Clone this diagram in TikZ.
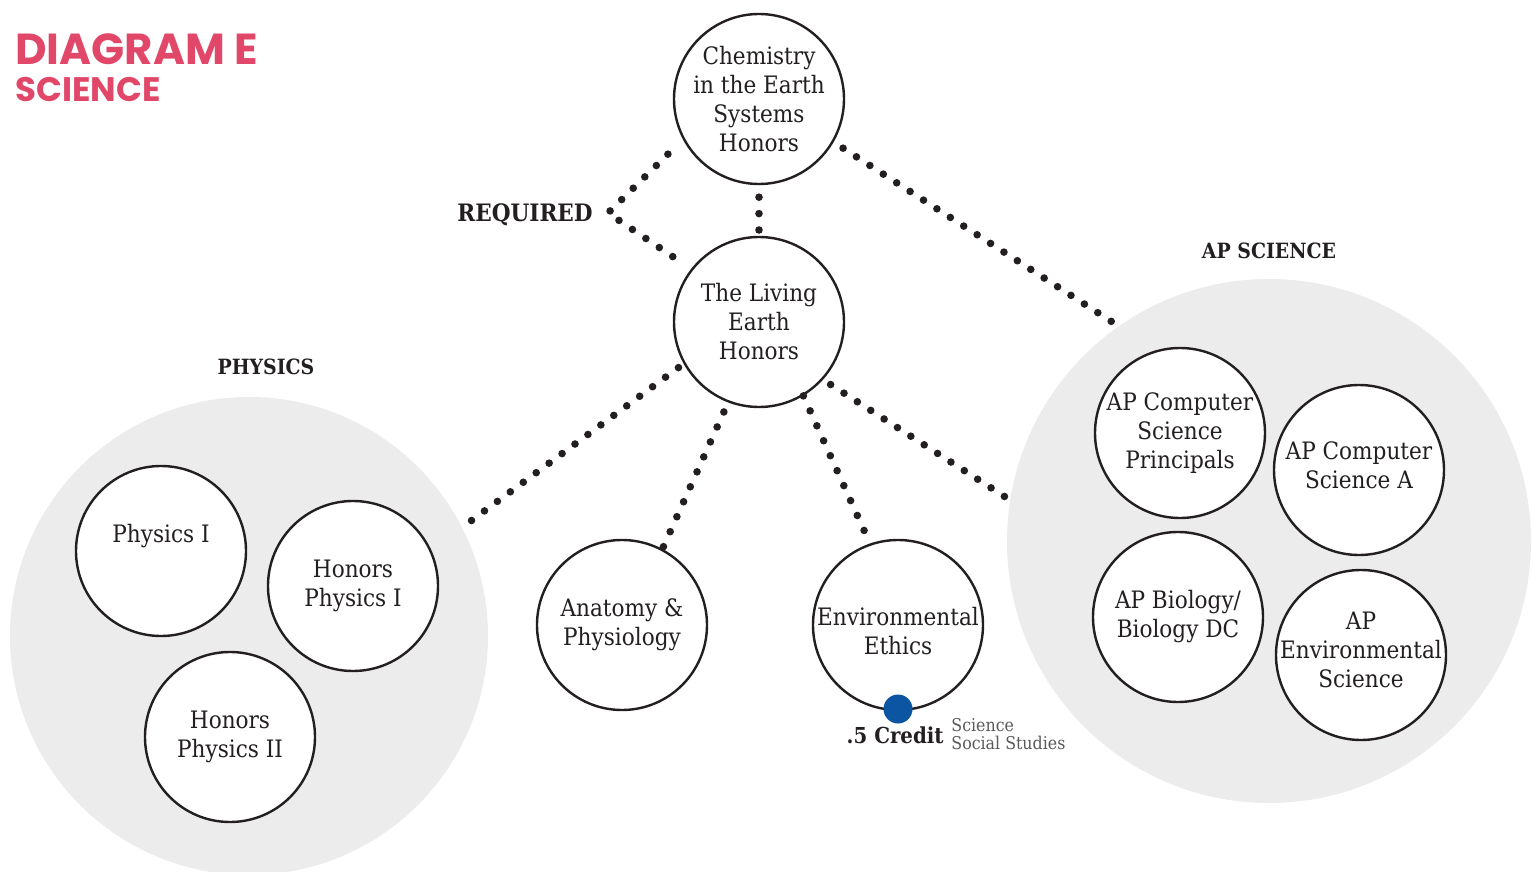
\documentclass[tikz,border=0pt]{standalone}
\usepackage{fontspec}
\setmainfont{DejaVu Serif}[FakeStretch=0.9]
\newfontfamily\titlefont{Poppins}
\usepackage{tikz}
\usetikzlibrary{shapes}

\begin{document}
\begin{tikzpicture}[x=0.5pt,y=-0.5pt,
  course/.style={draw=ink,circle,line width=1.2pt,fill=white,text=ink,minimum size=85pt,inner sep=-8pt,align=center,font=\fontsize{12}{14.5}\selectfont},
  group/.style={circle,fill=bggray,inner sep=0pt},
  dots/.style={draw=ink,line width=3.8pt,dash pattern=on 0pt off #1,line cap=round},
  dots/.default=8.2pt,
  head/.style={font=\bfseries\fontsize{10.5}{12}\selectfont,text=ink}]
%%
%%
\definecolor{ink}{RGB}{35,31,32}%
\definecolor{bggray}{RGB}{235,236,235}%
\definecolor{titlered}{RGB}{225,71,105}%
\definecolor{creditblue}{RGB}{11,85,163}%
\definecolor{softgray}{RGB}{90,90,90}%
%
\useasboundingbox (0,0) rectangle (1533,872);
%
  \node (title) at (15,65) [anchor=base west,inner sep=0pt,text=titlered,font=\titlefont\bfseries\fontsize{21.7}{24}\selectfont] {DIAGRAM E};
  \node (subtitle) at (15,102) [anchor=base west,inner sep=0pt,text=titlered,font=\titlefont\bfseries\fontsize{17}{20}\selectfont] {SCIENCE};

  \node (physics) at (249,636) [group,minimum size=239pt] {};
  \node (apsci) at (1269,541) [group,minimum size=262pt] {};

  \node (required) at (525,215) [head,font=\bfseries\fontsize{12}{14}\selectfont] {REQUIRED};
  \node (physlabel) at (266,367) [head] {PHYSICS};
  \node (aplabel) at (1269,251) [head] {AP SCIENCE};
  \coordinate (req) at (608,213);

  \node (chem) at (759,99) [course] {Chemistry\\in the Earth\\Systems\\Honors};
  \node (living) at (759,322) [course] {The Living\\Earth\\Honors};
  \node (phys1) at (161,551) [course] {Physics I\\[3pt]\phantom{I}};
  \node (hphys1) at (353,586) [course] {Honors\\Physics I};
  \node (hphys2) at (230,737) [course] {Honors\\Physics II};
  \node (anatomy) at (622,625) [course] {Anatomy \&\\Physiology};
  \node (ethics) at (898,625) [course] {\rule{0pt}{15pt}Environmental\\Ethics};
  \node (apcsp) at (1180,433) [course] {AP Computer\\Science\\Principals};
  \node (apcsa) at (1359,470) [course] {AP Computer\\Science A\\[-9.5pt]\mbox{}};
  \node (apbio) at (1178,617) [course] {AP Biology/\\Biology DC};
  \node (apenv) at (1361,655) [course] {AP\\Environmental\\Science\\[-9pt]\mbox{}};

  \draw[dots=8.1pt,shorten <=10.5pt,shorten >=10.8pt] (chem.208) -- (req) -- (living.142);
  \path[dots,shorten <=6pt,shorten >=2pt] (chem.270) edge (living.90);
  \path[dots=7.98pt,shorten <=5.6pt,shorten >=4pt] (chem.330) edge (apsci.125);
  \path[dots=8.04pt,shorten <=3.2pt,shorten >=5.5pt] (living.209) edge (physics.27);
  \path[dots,shorten <=5.2pt,shorten >=0pt] (living.249) edge (anatomy.62);
  \path[dots,shorten <=0pt,shorten >=5.9pt] (living.301) edge (ethics.109);
  \path[dots=7.95pt,shorten <=4.5pt,shorten >=3pt] (living.318) edge (apsci.171);

  \node (credit) at (898,709) [circle,fill=creditblue,minimum size=14.5pt,inner sep=0pt] {};
  \node (half) at (944,743) [anchor=base east,inner sep=0pt,text=ink,font=\bfseries\fontsize{11}{13}\selectfont] {.5 Credit};
  \node (subj1) at (951,731) [anchor=base west,inner sep=0pt,text=softgray,font=\fontsize{8.8}{9}\selectfont] {Science};
  \node (subj2) at (951,749) [anchor=base west,inner sep=0pt,text=softgray,font=\fontsize{8.8}{9}\selectfont] {Social Studies};
%
\end{tikzpicture}
\end{document}
